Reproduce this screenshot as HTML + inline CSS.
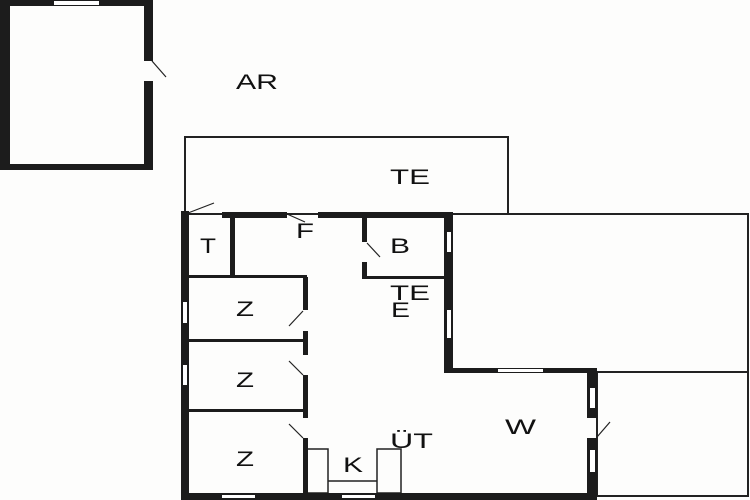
<!DOCTYPE html>
<html><head><style>body{margin:0;background:#fff}svg{display:block}text{font-family:"Liberation Sans",sans-serif;font-size:21px;fill:#111}</style></head><body>
<svg width="750" height="500" viewBox="0 0 750 500">
<rect width="750" height="500" fill="#fdfdfc"/>
<g fill="none" stroke="#222" stroke-width="2">
<rect x="185" y="137" width="323" height="77"/>
<rect x="452" y="214" width="296" height="158"/>
<rect x="597" y="372" width="151" height="124"/>
<rect x="307" y="449" width="21" height="44" stroke-width="1.5"/>
<rect x="377" y="449" width="24" height="44" stroke-width="1.5"/>
<line x1="328" y1="481" x2="377" y2="481" stroke-width="1.5"/>
</g>
<g fill="#1c1c1c">
<rect x="0" y="0" width="153" height="6"/>
<rect x="0" y="0" width="10" height="170"/>
<rect x="0" y="164" width="153" height="6"/>
<rect x="144" y="0" width="9" height="61"/>
<rect x="144" y="81" width="9" height="89"/>
<rect x="181" y="211" width="8" height="289"/>
<rect x="181" y="493" width="416" height="7"/>
<rect x="222" y="212" width="65" height="6"/>
<rect x="318" y="212" width="135" height="6"/>
<rect x="230" y="212" width="5" height="65"/>
<rect x="189" y="275" width="118" height="3"/>
<rect x="189" y="339" width="118" height="3"/>
<rect x="189" y="409" width="118" height="3"/>
<rect x="303" y="277" width="5" height="33"/>
<rect x="303" y="331" width="5" height="24"/>
<rect x="303" y="375" width="5" height="43"/>
<rect x="303" y="438" width="5" height="56"/>
<rect x="362" y="212" width="5" height="30"/>
<rect x="362" y="262" width="5" height="16"/>
<rect x="362" y="276" width="83" height="3"/>
<rect x="444" y="212" width="9" height="161"/>
<rect x="444" y="368" width="153" height="5"/>
<rect x="587" y="368" width="10" height="50"/>
<rect x="587" y="438" width="10" height="62"/>
</g>
<g fill="#fff">
<rect x="54" y="1" width="45" height="4"/>
<rect x="183" y="302" width="4" height="21"/>
<rect x="183" y="365" width="4" height="20"/>
<rect x="222" y="495" width="33" height="3"/>
<rect x="342" y="495" width="33" height="3"/>
<rect x="447" y="232" width="4" height="20"/>
<rect x="447" y="310" width="4" height="28"/>
<rect x="498" y="369" width="45" height="3"/>
<rect x="590" y="388" width="5" height="20"/>
<rect x="590" y="450" width="5" height="22"/>
</g>
<g stroke="#222" stroke-width="1.2">
<line x1="152" y1="61" x2="166" y2="77"/>
<line x1="188" y1="213" x2="214" y2="203"/>
<line x1="287" y1="214" x2="305" y2="222"/>
<line x1="367" y1="243" x2="380" y2="257"/>
<line x1="303" y1="311" x2="289" y2="326"/>
<line x1="303" y1="375" x2="289" y2="361"/>
<line x1="303" y1="438" x2="289" y2="424"/>
<line x1="597" y1="437" x2="610" y2="422"/>
</g>
<g style="" lengthAdjust="spacingAndGlyphs">
<text x="236" y="89" textLength="42" lengthAdjust="spacingAndGlyphs">AR</text>
<text x="390" y="184" textLength="40" lengthAdjust="spacingAndGlyphs">TE</text>
<text x="200" y="253" textLength="16" lengthAdjust="spacingAndGlyphs">T</text>
<text x="296" y="238" textLength="18" lengthAdjust="spacingAndGlyphs">F</text>
<text x="390" y="253" textLength="20" lengthAdjust="spacingAndGlyphs">B</text>
<text x="390" y="300" textLength="40" lengthAdjust="spacingAndGlyphs">TE</text>
<text x="391" y="317" textLength="19" lengthAdjust="spacingAndGlyphs">E</text>
<text x="236" y="316" textLength="18" lengthAdjust="spacingAndGlyphs">Z</text>
<text x="236" y="387" textLength="18" lengthAdjust="spacingAndGlyphs">Z</text>
<text x="236" y="466" textLength="18" lengthAdjust="spacingAndGlyphs">Z</text>
<text x="343" y="472" textLength="20" lengthAdjust="spacingAndGlyphs">K</text>
<text x="390" y="448" textLength="43" lengthAdjust="spacingAndGlyphs">ÜT</text>
<text x="505" y="434" textLength="31" lengthAdjust="spacingAndGlyphs">W</text>
</g>
</svg>
</body></html>
